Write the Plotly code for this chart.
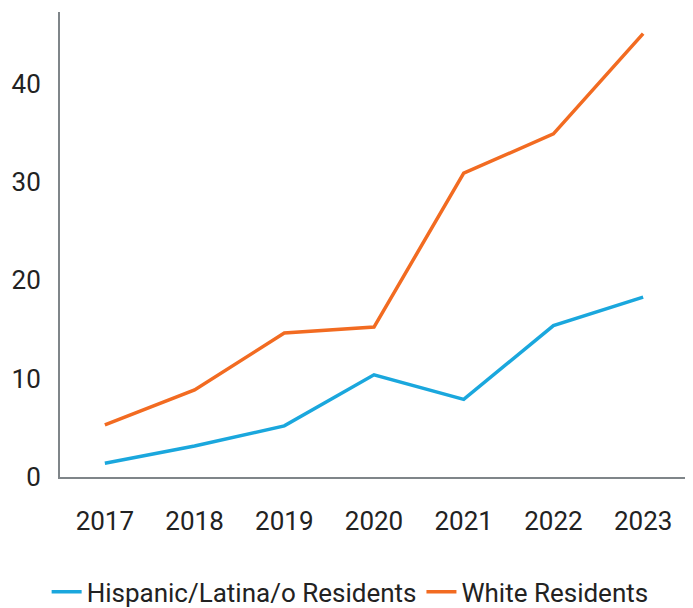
import plotly.graph_objects as go

years = ["2017", "2018", "2019", "2020", "2021", "2022", "2023"]
hispanic = [1.4, 3.15, 5.2, 10.4, 7.9, 15.4, 18.3]
white = [5.3, 8.85, 14.65, 15.25, 30.9, 34.9, 45.1]

fig = go.Figure()
fig.add_trace(go.Scatter(x=years, y=hispanic, mode="lines", name="Hispanic/Latina/o Residents",
                         line=dict(color="#1aa7dd", width=3.5)))
fig.add_trace(go.Scatter(x=years, y=white, mode="lines", name="White Residents",
                         line=dict(color="#f26b21", width=3.5)))

fig.update_layout(
    width=685, height=600,
    margin=dict(l=52, r=5, t=4, b=131, autoexpand=False),
    plot_bgcolor="white", paper_bgcolor="white",
    font=dict(family="Roboto", size=26, color="#222222"),
    showlegend=True,
    legend=dict(orientation="h", x=0.462, xanchor="center", y=-0.247, yanchor="middle",
                font=dict(size=26)),
    xaxis=dict(type="category", range=[-0.5, 6.5], showgrid=False, showline=True,
               linecolor="#7f8589", linewidth=2, ticks="", ticklabelstandoff=20,
               automargin=False),
    yaxis=dict(range=[0, 47.3], showgrid=False, showline=True, linecolor="#7f8589",
               linewidth=2, tickvals=[0, 10, 20, 30, 40], ticks="", ticklabelstandoff=12,
               zeroline=False, automargin=False),
)
fig.write_html("out.html")
